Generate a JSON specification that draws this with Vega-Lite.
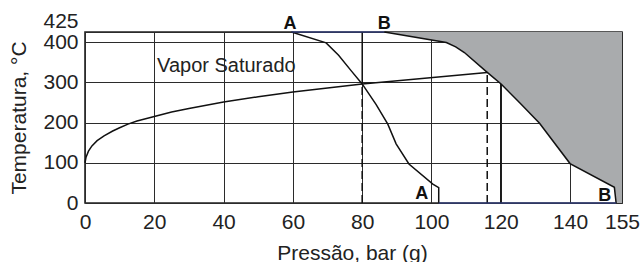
{
  "$schema": "https://vega.github.io/schema/vega-lite/v6.json",
  "autosize": {"type": "none"},
  "padding": {"left": 85, "top": 32, "right": 20, "bottom": 59},
  "width": 537,
  "height": 171,
  "background": "white",
  "config": {
    "font": "Liberation Sans",
    "view": {"stroke": "#222", "strokeWidth": 1.6},
    "axis": {
      "labelFont": "Liberation Sans",
      "titleFont": "Liberation Sans",
      "labelColor": "#222",
      "titleColor": "#222",
      "titleFontWeight": "normal",
      "labelFontSize": 21,
      "titleFontSize": 21,
      "ticks": false,
      "domain": false,
      "grid": true,
      "gridColor": "#2b2b2b",
      "gridOpacity": 1,
      "gridWidth": 1,
      "labelFlush": false,
      "labelOverlap": false
    }
  },
  "datasets": {
    "curves": [
      {"curve": "sat", "o": 1, "p": 0, "t": 100},
      {"curve": "sat", "o": 2, "p": 0.3, "t": 114},
      {"curve": "sat", "o": 3, "p": 1, "t": 129},
      {"curve": "sat", "o": 4, "p": 2, "t": 142},
      {"curve": "sat", "o": 5, "p": 3.5, "t": 155},
      {"curve": "sat", "o": 6, "p": 5.5, "t": 167},
      {"curve": "sat", "o": 7, "p": 8, "t": 179},
      {"curve": "sat", "o": 8, "p": 10, "t": 187},
      {"curve": "sat", "o": 9, "p": 12.4, "t": 196},
      {"curve": "sat", "o": 10, "p": 15, "t": 204},
      {"curve": "sat", "o": 11, "p": 20, "t": 215},
      {"curve": "sat", "o": 12, "p": 25, "t": 226},
      {"curve": "sat", "o": 13, "p": 30, "t": 235},
      {"curve": "sat", "o": 14, "p": 40, "t": 251},
      {"curve": "sat", "o": 15, "p": 50, "t": 264},
      {"curve": "sat", "o": 16, "p": 60, "t": 276},
      {"curve": "sat", "o": 17, "p": 70, "t": 286},
      {"curve": "sat", "o": 18, "p": 80, "t": 296},
      {"curve": "sat", "o": 19, "p": 116.1, "t": 324.5},
      {"curve": "A", "o": 1, "p": 59.6, "t": 425},
      {"curve": "A", "o": 2, "p": 69.6, "t": 398},
      {"curve": "A", "o": 3, "p": 73.2, "t": 367},
      {"curve": "A", "o": 4, "p": 76.8, "t": 329},
      {"curve": "A", "o": 5, "p": 80, "t": 296},
      {"curve": "A", "o": 6, "p": 84, "t": 245},
      {"curve": "A", "o": 7, "p": 87.4, "t": 196},
      {"curve": "A", "o": 8, "p": 89.8, "t": 147},
      {"curve": "A", "o": 9, "p": 93.5, "t": 97},
      {"curve": "A", "o": 10, "p": 100.4, "t": 47},
      {"curve": "A", "o": 11, "p": 102.1, "t": 38},
      {"curve": "A", "o": 12, "p": 102.1, "t": 0},
      {"curve": "B", "o": 1, "p": 86.4, "t": 425},
      {"curve": "B", "o": 2, "p": 104.3, "t": 399},
      {"curve": "B", "o": 3, "p": 107, "t": 388},
      {"curve": "B", "o": 4, "p": 109.5, "t": 374},
      {"curve": "B", "o": 5, "p": 116.1, "t": 324.5},
      {"curve": "B", "o": 6, "p": 120.1, "t": 295.7},
      {"curve": "B", "o": 7, "p": 125.4, "t": 250},
      {"curve": "B", "o": 8, "p": 131.2, "t": 198},
      {"curve": "B", "o": 9, "p": 140, "t": 98},
      {"curve": "B", "o": 10, "p": 152.8, "t": 39},
      {"curve": "B", "o": 11, "p": 153.3, "t": 0}
    ],
    "dashed": [
      {"p": 80, "t1": 0, "t2": 296},
      {"p": 116.1, "t1": 0, "t2": 324.5}
    ],
    "solidV": [
      {"p": 80, "t1": 296, "t2": 425},
      {"p": 120, "t1": 0, "t2": 296}
    ],
    "blueH": [
      {"p1": 59.6, "p2": 86.4, "t": 425},
      {"p1": 102.1, "p2": 153.3, "t": 0}
    ],
    "labels": [
      {"text": "A", "p": 59.2, "t": 432},
      {"text": "B", "p": 86.4, "t": 432},
      {"text": "A", "p": 97.2, "t": 10},
      {"text": "B", "p": 150, "t": 6}
    ],
    "notes": [
      {"text": "Vapor Saturado", "p": 40.8, "t": 325}
    ]
  },
  "encoding": {
    "x": {
      "type": "quantitative",
      "scale": {"domain": [0, 155], "nice": false, "zero": false},
      "axis": {
        "title": "Pressão, bar (g)",
        "values": [0, 20, 40, 60, 80, 100, 120, 140, 155],
        "grid": true,
        "labelPadding": 8,
        "titleBaseline": "alphabetic",
        "titleY": 56,
        "titleX": 267
      }
    },
    "y": {
      "type": "quantitative",
      "scale": {"domain": [0, 425], "nice": false, "zero": false},
      "axis": {
        "title": "Temperatura, °C",
        "values": [0, 100, 200, 300, 400, 425],
        "grid": true,
        "labelPadding": 7,
        "labelOffset": {"condition": {"test": "datum.value == 425", "value": -11}, "value": 0},
        "titleAngle": 270,
        "titleBaseline": "bottom",
        "titleAlign": "center",
        "titleX": -56,
        "titleY": 85.5
      }
    }
  },
  "layer": [
    {
      "data": {"name": "curves"},
      "transform": [{"filter": "datum.curve == 'B'"}],
      "mark": {"type": "area", "orient": "horizontal", "color": "#a9abad"},
      "encoding": {
        "x": {"field": "p"},
        "x2": {"datum": 155},
        "y": {"field": "t"}
      }
    },
    {
      "data": {"name": "dashed"},
      "mark": {"type": "rule", "color": "#111", "strokeWidth": 1.5, "strokeDash": [8, 4]},
      "encoding": {
        "x": {"field": "p"},
        "y": {"field": "t1"},
        "y2": {"field": "t2"}
      }
    },
    {
      "data": {"name": "solidV"},
      "mark": {"type": "rule", "color": "#111", "strokeWidth": 1.4},
      "encoding": {
        "x": {"field": "p"},
        "y": {"field": "t1"},
        "y2": {"field": "t2"}
      }
    },
    {
      "data": {"name": "curves"},
      "mark": {"type": "line", "color": "#111", "strokeWidth": 1.5},
      "encoding": {
        "x": {"field": "p"},
        "y": {"field": "t"},
        "detail": {"field": "curve"},
        "order": {"field": "o"}
      }
    },
    {
      "data": {"name": "blueH"},
      "mark": {"type": "rule", "color": "#34449a", "strokeWidth": 1.1},
      "encoding": {
        "x": {"field": "p1"},
        "x2": {"field": "p2"},
        "y": {"field": "t"}
      }
    },
    {
      "data": {"name": "labels"},
      "mark": {"type": "text", "font": "Liberation Sans", "fontWeight": "bold", "fontSize": 18, "baseline": "alphabetic", "align": "center", "color": "#111"},
      "encoding": {
        "x": {"field": "p"},
        "y": {"field": "t"},
        "text": {"field": "text"}
      }
    },
    {
      "data": {"name": "notes"},
      "mark": {"type": "text", "font": "Liberation Sans", "fontSize": 20, "baseline": "alphabetic", "align": "center", "color": "#222"},
      "encoding": {
        "x": {"field": "p"},
        "y": {"field": "t"},
        "text": {"field": "text"}
      }
    }
  ]
}
